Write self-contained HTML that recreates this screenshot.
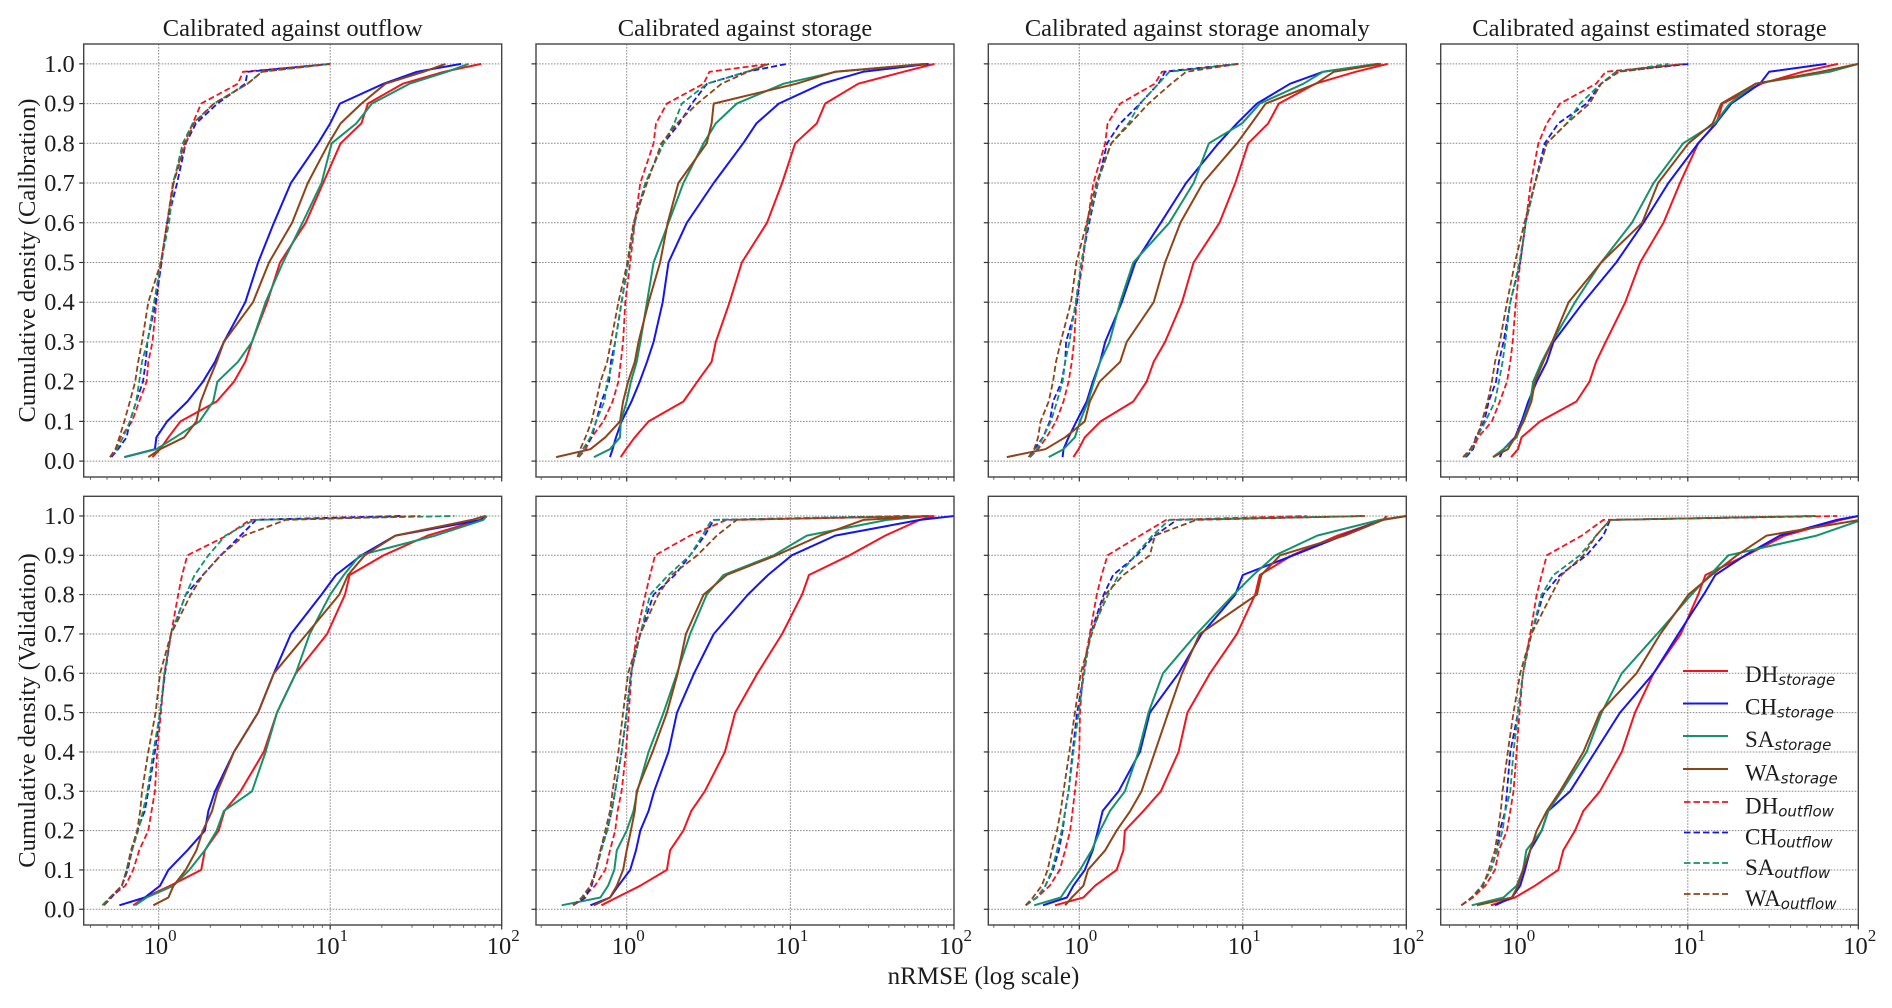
<!DOCTYPE html>
<html lang="en">
<head>
<meta charset="utf-8">
<title>Cumulative density of nRMSE</title>
<style>
html,body{margin:0;padding:0;background:#fff;}
svg{display:block;filter:blur(0.35px);}
text{font-family:"Liberation Serif",serif;fill:#1c1c1c;}
.sub{font-family:"DejaVu Sans",sans-serif;font-style:italic;font-size:15px;}
</style>
</head>
<body>
<svg id="figure" xmlns="http://www.w3.org/2000/svg" width="1892" height="1008" viewBox="0 0 1892 1008">
<rect x="0" y="0" width="1892" height="1008" fill="#fff"/>
<g id="panels"></g>
<text x="292.7" y="36" font-size="24.5" text-anchor="middle">Calibrated against outflow</text>
<text x="745" y="36" font-size="24.5" text-anchor="middle">Calibrated against storage</text>
<text x="1197.3" y="36" font-size="24.5" text-anchor="middle">Calibrated against storage anomaly</text>
<text x="1649.5" y="36" font-size="24.5" text-anchor="middle">Calibrated against estimated storage</text>
<text transform="translate(35,260.5) rotate(-90)" font-size="24.5" text-anchor="middle">Cumulative density (Calibration)</text>
<text transform="translate(35,710.5) rotate(-90)" font-size="24.5" text-anchor="middle">Cumulative density (Validation)</text>
<text x="983.5" y="984" font-size="25" text-anchor="middle">nRMSE (log scale)</text>
<g id="legend" font-size="23">
  <g><line x1="1683" x2="1728" y1="671" y2="671" stroke="#f5141e" stroke-width="2"/><text x="1745" y="682">DH<tspan class="sub" dy="3">storage</tspan></text></g>
  <g><line x1="1683" x2="1728" y1="703.5" y2="703.5" stroke="#1414f5" stroke-width="2"/><text x="1745" y="714.5">CH<tspan class="sub" dy="3">storage</tspan></text></g>
  <g><line x1="1683" x2="1728" y1="736" y2="736" stroke="#14936a" stroke-width="2"/><text x="1745" y="747">SA<tspan class="sub" dy="3">storage</tspan></text></g>
  <g><line x1="1683" x2="1728" y1="769" y2="769" stroke="#8f4417" stroke-width="2"/><text x="1745" y="780.5">WA<tspan class="sub" dy="3">storage</tspan></text></g>
  <g><line x1="1684" x2="1728" y1="802" y2="802" stroke="#f5141e" stroke-width="1.8" stroke-dasharray="6.5,3"/><text x="1745" y="813.5">DH<tspan class="sub" dy="3">outflow</tspan></text></g>
  <g><line x1="1684" x2="1728" y1="832.5" y2="832.5" stroke="#1414f5" stroke-width="1.8" stroke-dasharray="6.5,3"/><text x="1745" y="844.5">CH<tspan class="sub" dy="3">outflow</tspan></text></g>
  <g><line x1="1684" x2="1728" y1="863" y2="863" stroke="#14936a" stroke-width="1.8" stroke-dasharray="6.5,3"/><text x="1745" y="875">SA<tspan class="sub" dy="3">outflow</tspan></text></g>
  <g><line x1="1684" x2="1728" y1="894" y2="894" stroke="#8f4417" stroke-width="1.8" stroke-dasharray="6.5,3"/><text x="1745" y="906">WA<tspan class="sub" dy="3">outflow</tspan></text></g>
</g>
</svg>
<script>
// Cumulative-density levels shared by every curve in a row
const calLevels = [0.01,0.03,0.06,0.1,0.15,0.2,0.25,0.3,0.4,0.5,0.6,0.7,0.8,0.85,0.9,0.95,0.98,1];
const valLevels = [0.01,0.03,0.06,0.1,0.15,0.2,0.25,0.3,0.4,0.5,0.6,0.7,0.8,0.85,0.9,0.95,0.99,1];
const yTickValues = [0,0.1,0.2,0.3,0.4,0.5,0.6,0.7,0.8,0.9,1];
const yTickLabels = ['0.0','0.1','0.2','0.3','0.4','0.5','0.6','0.7','0.8','0.9','1.0'];
const xMajorExponents = [0,1,2];
const xMinorDecades = [0.1,1,10];
const xMinorMultipliers = [2,3,4,5,6,7,8,9];
const seriesKeys = ['DH_storage','CH_storage','SA_storage','WA_storage','DH_outflow','CH_outflow','SA_outflow','WA_outflow'];
const seriesColors = ['#f5141e','#1414f5','#14936a','#8f4417','#f5141e','#1414f5','#14936a','#8f4417'];

// nRMSE at each level: calibration row, calibrated against outflow
const calOutflow_DH_storage = [0.92,1.02,1.14,1.34,2.18,2.75,3.2,3.5,4.3,5.1,7.2,9.1,11.5,15.2,16.6,26.5,46,76];
const calOutflow_CH_storage = [0.63,0.95,0.97,1.12,1.47,1.81,2.13,2.4,3.2,3.8,4.7,5.9,8.5,10,11.4,20.5,32,58];
const calOutflow_SA_storage = [0.63,0.97,1.25,1.73,2.08,2.2,2.9,3.5,4.2,5.3,6.9,8.9,10.2,14.2,17.5,29,48,64];
const calOutflow_WA_storage = [0.87,1.02,1.41,1.66,1.76,1.95,2.18,2.4,3.55,4.4,6,7.4,9.8,11.5,15.2,21,35,47];
const calOutflow_DH_outflow = [0.52,0.56,0.6,0.7,0.77,0.85,0.87,0.92,0.97,1.03,1.12,1.21,1.41,1.58,1.77,2.9,3.1,10];
const calOutflow_CH_outflow = [0.53,0.58,0.65,0.68,0.74,0.81,0.84,0.86,0.96,1.04,1.12,1.28,1.44,1.65,2.2,3.2,3.3,10];
const calOutflow_SA_outflow = [0.52,0.57,0.62,0.68,0.74,0.77,0.8,0.86,0.94,1.03,1.15,1.22,1.38,1.58,2.1,3.3,4,10];
const calOutflow_WA_outflow = [0.52,0.56,0.59,0.63,0.68,0.73,0.76,0.8,0.87,1.03,1.12,1.22,1.44,1.6,2.1,3.3,4,10];

// calibration row, calibrated against storage
const calStorage_DH_storage = [0.92,0.99,1.12,1.36,2.22,2.7,3.3,3.5,4.25,5.05,7.2,8.9,10.7,14.5,16.3,26,49,76];
const calStorage_CH_storage = [0.79,0.82,0.86,0.93,1.07,1.2,1.33,1.46,1.66,1.8,2.33,3.4,5.15,6.2,8.5,15.6,27.8,70];
const calStorage_SA_storage = [0.63,0.79,0.91,0.92,1,1.06,1.15,1.21,1.33,1.46,1.8,2.22,2.95,3.5,4.7,9.1,19,66];
const calStorage_WA_storage = [0.37,0.6,0.74,0.91,0.95,1.02,1.12,1.18,1.36,1.6,1.78,2.07,3.08,3.3,3.4,10.9,18.7,68];
const calStorage_DH_outflow = [0.51,0.56,0.61,0.72,0.82,0.89,0.92,0.95,0.98,1.05,1.12,1.21,1.46,1.51,1.76,2.95,3.2,7.4];
const calStorage_CH_outflow = [0.51,0.54,0.61,0.65,0.7,0.78,0.8,0.85,0.93,1.02,1.11,1.3,1.68,2.1,2.5,3.1,5.4,9.5];
const calStorage_SA_outflow = [0.51,0.54,0.6,0.65,0.73,0.76,0.82,0.85,0.93,1.02,1.12,1.3,1.68,1.95,2.17,3.1,5.4,7.4];
const calStorage_WA_outflow = [0.5,0.52,0.56,0.61,0.65,0.69,0.76,0.8,0.89,1.01,1.1,1.33,1.63,2.03,2.7,3.8,5.5,7.4];

// calibration row, calibrated against storage anomaly
const calAnomaly_DH_storage = [0.92,0.99,1.08,1.35,2.14,2.58,2.85,3.35,4.25,5,7.2,9,10.8,14.3,16.6,27.8,49,77];
const calAnomaly_CH_storage = [0.79,0.8,0.86,0.96,1.11,1.21,1.34,1.44,1.82,2.2,3.15,4.5,7.1,9.2,12.2,19.5,31,68];
const calAnomaly_SA_storage = [0.65,0.8,0.94,1.01,1.13,1.23,1.34,1.53,1.78,2.14,3.55,5,6.2,9.9,12.7,23.5,31,66];
const calAnomaly_WA_storage = [0.36,0.62,0.82,1.08,1.16,1.33,1.78,1.95,2.85,3.35,4.15,5.7,9.2,11.3,13.8,28,36,70];
const calAnomaly_DH_outflow = [0.5,0.56,0.63,0.72,0.8,0.86,0.9,0.93,0.96,1.05,1.12,1.22,1.44,1.49,1.78,2.9,3.2,9.4];
const calAnomaly_CH_outflow = [0.5,0.53,0.6,0.66,0.69,0.78,0.82,0.83,0.97,1.03,1.15,1.3,1.48,1.78,2.35,3.05,3.35,9.4];
const calAnomaly_SA_outflow = [0.5,0.55,0.6,0.67,0.73,0.79,0.82,0.87,0.95,1.03,1.13,1.29,1.57,2,2.35,3.05,3.55,9.4];
const calAnomaly_WA_outflow = [0.49,0.53,0.56,0.58,0.65,0.69,0.72,0.77,0.89,0.96,1.11,1.27,1.57,2.05,2.65,3.65,4.5,9.4];

// calibration row, calibrated against estimated storage
const calEstimated_DH_storage = [0.92,1.01,1.06,1.36,2.22,2.65,2.9,3.3,4.3,5.25,7.2,9,11.5,14.7,16,27,47,76];
const calEstimated_CH_storage = [0.79,0.83,0.97,1.06,1.16,1.3,1.49,1.63,2.44,3.8,5.5,7.7,11.5,14.6,18,26.5,30,65];
const calEstimated_SA_storage = [0.72,0.83,0.99,1.08,1.19,1.24,1.39,1.6,2.18,3.1,4.7,6.3,9.4,14.4,17.6,25,68,100];
const calEstimated_WA_storage = [0.72,0.88,0.97,1.09,1.21,1.27,1.42,1.6,2,3.1,5.4,6.7,10.1,14,15.7,25,60,100];
const calEstimated_DH_outflow = [0.49,0.55,0.59,0.71,0.79,0.87,0.91,0.94,0.98,1.04,1.12,1.2,1.33,1.49,1.78,2.9,3.3,9.8];
const calEstimated_CH_outflow = [0.5,0.55,0.57,0.64,0.68,0.75,0.78,0.83,0.91,1.04,1.12,1.27,1.45,1.74,2.55,3.1,3.8,10.2];
const calEstimated_SA_outflow = [0.49,0.54,0.58,0.65,0.74,0.78,0.82,0.85,0.91,1.03,1.12,1.27,1.49,1.95,2.33,3.1,3.8,7.7];
const calEstimated_WA_outflow = [0.48,0.53,0.58,0.62,0.67,0.71,0.74,0.79,0.87,0.97,1.1,1.27,1.49,1.95,2.65,3.1,3.95,9.4];

// validation row, calibrated against outflow
const valOutflow_DH_storage = [0.71,0.83,1.17,1.77,1.86,2.24,2.42,3,4.1,4.9,6.3,9.6,12.2,13,20.5,37,75,81];
const valOutflow_CH_storage = [0.59,0.83,1.02,1.14,1.47,1.86,1.95,2.13,2.75,3.8,4.7,5.9,8.9,10.8,15.2,24,76,81];
const valOutflow_SA_storage = [0.73,0.85,1.22,1.51,1.86,2.18,2.4,3.5,4.2,4.9,6.3,7.6,10,12,14.9,41,78,82];
const valOutflow_WA_storage = [0.93,1.14,1.22,1.44,1.66,1.81,2.05,2.2,2.75,3.8,4.7,7.3,11.3,12.7,15.9,24,67,80];
const valOutflow_DH_outflow = [0.47,0.52,0.64,0.71,0.77,0.87,0.91,0.95,0.98,1.03,1.08,1.18,1.3,1.37,1.47,2.5,3.4,26.5];
const valOutflow_CH_outflow = [0.48,0.53,0.61,0.66,0.7,0.75,0.83,0.87,0.95,1.02,1.09,1.18,1.44,1.81,2.3,3,3.7,26];
const valOutflow_SA_outflow = [0.47,0.52,0.61,0.65,0.7,0.76,0.81,0.86,0.93,1.02,1.08,1.18,1.44,1.62,1.95,2.45,3.6,53];
const valOutflow_WA_outflow = [0.48,0.52,0.61,0.65,0.69,0.75,0.78,0.8,0.87,0.96,1.02,1.18,1.54,1.81,2.3,3.15,5.5,33.5];

// validation row, calibrated against storage
const valStorage_DH_storage = [0.7,0.87,1.21,1.76,1.84,2.22,2.48,3,3.98,4.6,6.3,8.9,11.8,13,23,38,62,76];
const valStorage_CH_storage = [0.6,0.79,0.89,1.05,1.14,1.21,1.36,1.47,1.8,2.03,2.58,3.4,5.5,7.3,10.2,18.8,62,100];
const valStorage_SA_storage = [0.4,0.69,0.77,0.84,0.87,1,1.1,1.16,1.36,1.68,2.03,2.44,3.08,3.9,7.9,12.6,39,70];
const valStorage_WA_storage = [0.63,0.79,0.87,0.95,1,1.06,1.12,1.15,1.44,1.76,2.05,2.3,2.95,4.08,8.2,15.2,28,70];
const valStorage_DH_outflow = [0.47,0.54,0.64,0.74,0.79,0.85,0.88,0.93,0.99,1.03,1.07,1.15,1.3,1.39,1.49,2.44,4.08,75];
const valStorage_CH_outflow = [0.47,0.56,0.61,0.65,0.69,0.76,0.81,0.85,0.93,1,1.06,1.21,1.46,1.97,2.44,3,3.4,53];
const valStorage_SA_outflow = [0.47,0.53,0.6,0.65,0.7,0.76,0.81,0.85,0.93,1,1.06,1.21,1.39,1.8,2.44,2.9,3.3,53];
const valStorage_WA_outflow = [0.47,0.54,0.6,0.65,0.69,0.74,0.79,0.82,0.89,0.95,1.02,1.21,1.56,1.88,2.7,3.55,4.7,72];

// validation row, calibrated against storage anomaly
const valAnomaly_DH_storage = [0.71,1.06,1.25,1.69,1.86,1.9,2.47,3.15,4.05,4.58,6.3,9.2,11.9,12.7,20,38,72,76];
const valAnomaly_CH_storage = [0.6,0.84,0.92,1.08,1.21,1.3,1.39,1.74,2.35,2.7,4.05,5.6,9,10,20.4,41,71,100];
const valAnomaly_SA_storage = [0.53,0.77,0.86,1.01,1.19,1.34,1.54,1.9,2.3,2.65,3.25,5.2,8.8,11.6,15.8,28.5,69,100];
const valAnomaly_WA_storage = [0.82,0.9,1.06,1.13,1.44,1.69,2.05,2.4,2.9,3.5,4.25,5.45,12.2,13,16.9,42,72,100];
const valAnomaly_DH_outflow = [0.47,0.55,0.66,0.76,0.82,0.88,0.91,0.94,1,1.01,1.05,1.16,1.28,1.37,1.49,2.35,3.4,24.5];
const valAnomaly_CH_outflow = [0.47,0.55,0.62,0.69,0.75,0.79,0.82,0.86,0.91,0.97,1.07,1.17,1.41,1.61,2.25,2.9,3.95,56];
const valAnomaly_SA_outflow = [0.47,0.55,0.62,0.68,0.73,0.78,0.82,0.86,0.92,0.99,1.07,1.17,1.5,1.74,2.2,2.8,3.55,56];
const valAnomaly_WA_outflow = [0.47,0.52,0.59,0.64,0.68,0.73,0.77,0.8,0.87,0.94,1.02,1.19,1.44,1.86,2.7,2.9,5.2,56];

// validation row, calibrated against estimated storage
const valEstimated_DH_storage = [0.7,0.97,1.27,1.74,1.86,2.18,2.44,3.05,4.1,4.9,6.3,9.1,11.5,12.7,22,37,79,100];
const valEstimated_CH_storage = [0.74,0.93,1.04,1.11,1.19,1.39,1.52,2.04,2.86,4,6.3,8.8,12.4,14.5,21.7,34.7,75,100];
const valEstimated_SA_storage = [0.54,0.83,0.99,1.08,1.13,1.39,1.52,1.82,2.55,3.12,4.1,6.6,10.5,13.5,17.3,57,105,125];
const valEstimated_WA_storage = [0.58,0.93,1.01,1.08,1.19,1.3,1.49,1.78,2.44,3.05,5,6.9,10.1,13.8,19.4,29,102,112];
const valEstimated_DH_outflow = [0.47,0.55,0.65,0.74,0.78,0.87,0.91,0.95,0.99,1.03,1.08,1.19,1.3,1.39,1.49,2.39,3.2,75];
const valEstimated_CH_outflow = [0.47,0.54,0.62,0.7,0.76,0.79,0.85,0.87,0.91,1.01,1.08,1.21,1.42,1.78,2.55,3.2,3.5,56];
const valEstimated_SA_outflow = [0.47,0.54,0.62,0.7,0.76,0.82,0.85,0.91,0.95,1.01,1.08,1.21,1.39,1.63,2.33,2.9,3.5,56];
const valEstimated_WA_outflow = [0.47,0.54,0.63,0.68,0.74,0.77,0.8,0.82,0.88,0.95,1.04,1.21,1.59,1.82,2.44,2.9,3.5,56];

const calibrationRow = [
  [calOutflow_DH_storage,calOutflow_CH_storage,calOutflow_SA_storage,calOutflow_WA_storage,calOutflow_DH_outflow,calOutflow_CH_outflow,calOutflow_SA_outflow,calOutflow_WA_outflow],
  [calStorage_DH_storage,calStorage_CH_storage,calStorage_SA_storage,calStorage_WA_storage,calStorage_DH_outflow,calStorage_CH_outflow,calStorage_SA_outflow,calStorage_WA_outflow],
  [calAnomaly_DH_storage,calAnomaly_CH_storage,calAnomaly_SA_storage,calAnomaly_WA_storage,calAnomaly_DH_outflow,calAnomaly_CH_outflow,calAnomaly_SA_outflow,calAnomaly_WA_outflow],
  [calEstimated_DH_storage,calEstimated_CH_storage,calEstimated_SA_storage,calEstimated_WA_storage,calEstimated_DH_outflow,calEstimated_CH_outflow,calEstimated_SA_outflow,calEstimated_WA_outflow]
];
const validationRow = [
  [valOutflow_DH_storage,valOutflow_CH_storage,valOutflow_SA_storage,valOutflow_WA_storage,valOutflow_DH_outflow,valOutflow_CH_outflow,valOutflow_SA_outflow,valOutflow_WA_outflow],
  [valStorage_DH_storage,valStorage_CH_storage,valStorage_SA_storage,valStorage_WA_storage,valStorage_DH_outflow,valStorage_CH_outflow,valStorage_SA_outflow,valStorage_WA_outflow],
  [valAnomaly_DH_storage,valAnomaly_CH_storage,valAnomaly_SA_storage,valAnomaly_WA_storage,valAnomaly_DH_outflow,valAnomaly_CH_outflow,valAnomaly_SA_outflow,valAnomaly_WA_outflow],
  [valEstimated_DH_storage,valEstimated_CH_storage,valEstimated_SA_storage,valEstimated_WA_storage,valEstimated_DH_outflow,valEstimated_CH_outflow,valEstimated_SA_outflow,valEstimated_WA_outflow]
];
const columnNames = ['outflow','storage','storage-anomaly','estimated-storage'];

// Layout of the axes frames
const columnFrames = [
  {left:83.7, right:501.7, xMin:0.3655},
  {left:536, right:954, xMin:0.279},
  {left:988.3, right:1406.3, xMin:0.2776},
  {left:1440.7, right:1858.3, xMin:0.3554}
];
const rowFrames = [
  {top:44, bottom:477, name:'calibration', levels:calLevels, curves:calibrationRow, tickLabels:false},
  {top:496.3, bottom:925, name:'validation', levels:valLevels, curves:validationRow, tickLabels:true}
];
const X_MAX = 100, Y_MIN = -0.04, Y_MAX = 1.05;
const SVG_NS = 'http://www.w3.org/2000/svg';

function make(tag, attrs, parent){
  const el = document.createElementNS(SVG_NS, tag);
  for (const k in attrs) el.setAttribute(k, attrs[k]);
  parent.appendChild(el);
  return el;
}
function xAxis(col){
  const f = columnFrames[col];
  const lo = Math.log10(f.xMin), hi = Math.log10(X_MAX);
  return v => f.left + (Math.log10(v) - lo) / (hi - lo) * (f.right - f.left);
}
function yAxis(row){
  const f = rowFrames[row];
  return v => f.bottom - (v - Y_MIN) / (Y_MAX - Y_MIN) * (f.bottom - f.top);
}

const root = document.getElementById('panels');
rowFrames.forEach((rf, r) => {
  columnFrames.forEach((cf, c) => {
    const sx = xAxis(c), sy = yAxis(r);
    const g = make('g', {}, root);
    
    

    const clipId = 'clip-' + r + '-' + c;
    const defs = make('defs', {}, g);
    const clip = make('clipPath', {id: clipId}, defs);
    make('rect', {x: cf.left, y: rf.top, width: cf.right - cf.left, height: rf.bottom - rf.top}, clip);

    // grid lines
    yTickValues.forEach(v => {
      const line = make('line', {x1: cf.left, x2: cf.right, y1: sy(v), y2: sy(v), stroke: '#8a8a8a', 'stroke-width': 1, 'stroke-dasharray': '1.6,1.4'}, g);
      
      
    });
    xMajorExponents.slice(0, 2).forEach(e => {
      const line = make('line', {x1: sx(Math.pow(10, e)), x2: sx(Math.pow(10, e)), y1: rf.top, y2: rf.bottom, stroke: '#8a8a8a', 'stroke-width': 1, 'stroke-dasharray': '1.6,1.4'}, g);
      
      
    });

    // curves
    const curves = make('g', {'clip-path': 'url(#' + clipId + ')'}, g);
    seriesKeys.forEach((key, s) => {
      const values = rf.curves[c][s];
      const pts = values.map((v, i) => sx(v).toFixed(1) + ',' + sy(rf.levels[i]).toFixed(1)).join(' ');
      const attrs = {points: pts, fill: 'none', stroke: seriesColors[s], 'stroke-width': s < 4 ? 2 : 1.8, 'stroke-linejoin': 'round'};
      if (s >= 4) attrs['stroke-dasharray'] = '6,3';
      const line = make('polyline', attrs, curves);
      
      
    });

    // frame
    const frame = make('rect', {x: cf.left, y: rf.top, width: cf.right - cf.left, height: rf.bottom - rf.top, fill: 'none', stroke: '#454545', 'stroke-width': 1.4}, g);
    
    

    // y ticks
    yTickValues.forEach((v, i) => {
      const tick = make('line', {x1: cf.left - 4.5, x2: cf.left, y1: sy(v), y2: sy(v), stroke: '#333', 'stroke-width': 1.2}, g);
      
      
      if (c === 0) {
        const label = make('text', {x: cf.left - 9, y: sy(v) + 8, 'font-size': 24.5, 'text-anchor': 'end'}, g);
        label.textContent = yTickLabels[i];
        
        
      }
    });

    // x ticks
    xMajorExponents.forEach(e => {
      const px = sx(Math.pow(10, e));
      const tick = make('line', {x1: px, x2: px, y1: rf.bottom, y2: rf.bottom + 4.5, stroke: '#333', 'stroke-width': 1.2}, g);
      
      
      if (rf.tickLabels) {
        const label = make('text', {x: px + 1.5, y: 954, 'font-size': 24.5, 'text-anchor': 'middle'}, g);
        
        
        const base = make('tspan', {}, label);
        base.textContent = '10';
        const power = make('tspan', {dy: -13, 'font-size': 17}, label);
        power.textContent = String(e);
      }
    });
    xMinorDecades.forEach(d => {
      xMinorMultipliers.forEach(m => {
        const v = d * m;
        if (v < cf.xMin || v > X_MAX) return;
        const tick = make('line', {x1: sx(v), x2: sx(v), y1: rf.bottom, y2: rf.bottom + 2.8, stroke: '#555', 'stroke-width': 0.9}, g);
        
        
      });
    });
  });
});
</script>
</body>
</html>
